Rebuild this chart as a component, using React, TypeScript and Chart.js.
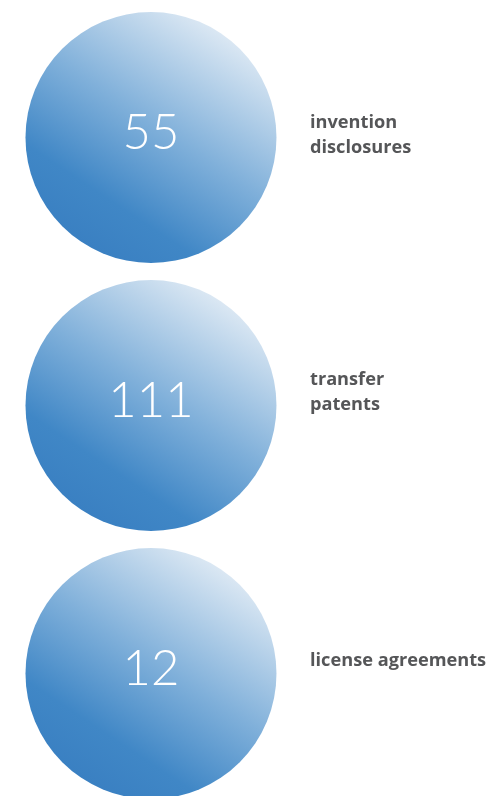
import React, { useEffect, useRef } from "react";
import { Chart, registerables } from "chart.js";

Chart.register(...registerables);

const categories: string[][] = [
  ["invention", "disclosures"],
  ["transfer", "patents"],
  ["license agreements"],
];
const values: number[] = [55, 111, 12];

// layout constants (not data)
const W = 491;
const H = 796;
const RADIUS = 125.5;
const LABEL_DX = 159;
const LABEL_FIRST_BASELINE = [-9.5, -20.5, -7.5];
const LINE_H = 25;

const labelPlugin = {
  id: "bubbleText",
  afterDatasetsDraw(chart: any) {
    const ctx = chart.ctx as CanvasRenderingContext2D;
    const meta = chart.getDatasetMeta(0);
    meta.data.forEach((pt: any, i: number) => {
      const { x, y } = pt.getProps(["x", "y"], true);
      ctx.save();
      ctx.fillStyle = "#ffffff";
      ctx.font = "300 49px Lato";
      ctx.textAlign = "center";
      ctx.textBaseline = "alphabetic";
      ctx.fillText(String(values[i]), x, y + 11);
      ctx.fillStyle = "#555658";
      ctx.font = "700 18.2px 'Open Sans'";
      ctx.textAlign = "left";
      categories[i].forEach((line, j) => {
        ctx.fillText(line, x + LABEL_DX, y + LABEL_FIRST_BASELINE[i] + j * LINE_H);
      });
      ctx.restore();
    });
  },
};

export default function App() {
  const ref = useRef<HTMLCanvasElement | null>(null);
  useEffect(() => {
    document.body.style.margin = "0";
    const canvas = ref.current!;
    const chart = new Chart(canvas, {
      type: "bubble",
      data: {
        datasets: [
          {
            data: values.map((v, i) => ({ x: 0, y: i, r: RADIUS, v })),
            borderWidth: 0,
            hoverBorderWidth: 0,
            clip: false,
            backgroundColor: (c: any) => {
              const ch = c.chart;
              const ctx = ch.ctx as CanvasRenderingContext2D;
              const xs = ch.scales?.x;
              const ys = ch.scales?.y;
              if (!xs || !ys || !c.parsed) return "#7aa9d4";
              const x = xs.getPixelForValue(c.parsed.x);
              const y = ys.getPixelForValue(c.parsed.y);
              if (!isFinite(x) || !isFinite(y)) return "#7aa9d4";
              const r = RADIUS;
              const g = ctx.createLinearGradient(
                x - 0.55 * r,
                y + 0.83 * r,
                x + 0.55 * r,
                y - 0.83 * r
              );
              g.addColorStop(0, "#3a80c2");
              g.addColorStop(0.2, "#4087c6");
              g.addColorStop(0.55, "#80b0da");
              g.addColorStop(1, "#dae7f3");
              return g;
            },
          } as any,
        ],
      },
      options: {
        responsive: false,
        animation: false,
        events: [],
        layout: { padding: 0, autoPadding: false } as any,
        plugins: { legend: { display: false }, tooltip: { enabled: false } },
        scales: {
          x: { type: "linear", display: false, min: -1, max: 2.252 },
          y: {
            type: "linear",
            display: false,
            reverse: true,
            min: -137.5 / 268,
            max: (H - 137.5) / 268,
          },
        },
      },
      plugins: [labelPlugin],
    });
    return () => chart.destroy();
  }, []);
  return (
    <div style={{ width: W, height: H, position: "relative" }}>
      <canvas ref={ref} width={W} height={H} style={{ display: "block" }} />
    </div>
  );
}
